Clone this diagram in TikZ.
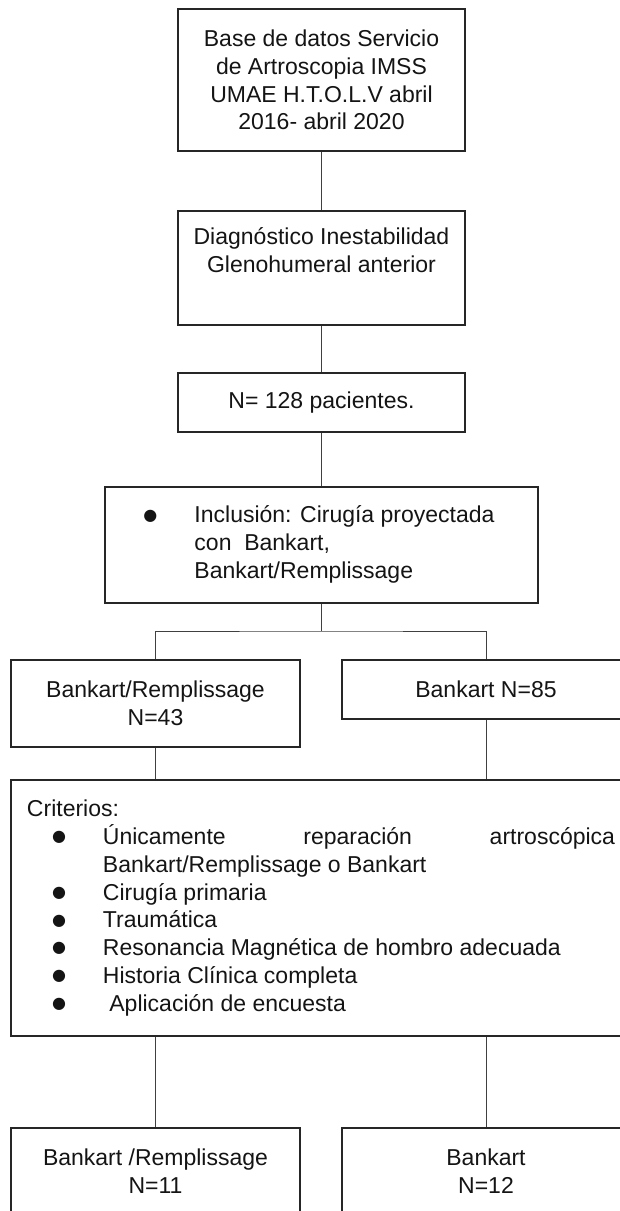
\documentclass[tikz,border=0pt]{standalone}
\usepackage{fontspec}
\setmainfont{Liberation Sans}
\newfontfamily\simbolos{DejaVu Sans}
\usetikzlibrary{calc}

% viñeta redonda y sangría colgante
\newcommand{\bola}{\raisebox{2.7pt}{\simbolos\fontsize{16}{16}\selectfont ●}}
\newcommand{\punto}[1]{\par\noindent\hangindent=76pt\hangafter=1\hspace*{25pt}\makebox[51pt][l]{\bola}#1}

\begin{document}
\begin{tikzpicture}[x=1pt, y=-1pt,
    caja/.style={draw=black!85, line width=1.6pt, align=center, inner sep=0pt, text=black!92,
      font=\fontsize{23}{27.8}\selectfont},
    linea/.style={draw=black!75, line width=1pt}]
        \useasboundingbox (0,0) rectangle (620,1211);

        % cajas de la columna central
        \node[caja, minimum width=287pt, minimum height=142pt] (base) at (321.5,80)
            {Base de datos Servicio\\de Artroscopia IMSS\\UMAE H.T.O.L.V abril\\2016- abril 2020};
        \node[caja, minimum width=287pt, minimum height=114pt] (diag) at (321.5,268)
            {Diagnóstico Inestabilidad\\Glenohumeral anterior\\\strut};
        \node[caja, minimum width=287pt, minimum height=59pt] (pac) at (321.5,402.5)
            {N= 128 pacientes.};
        \node[caja, minimum width=433pt, minimum height=116pt] (incl) at (321.5,545)
            {\begin{tabular}{@{}p{46pt}@{}l@{}}
             \hspace*{-5pt}\bola & Inclusión: Cirugía proyectada\\
                         & con\ \ Bankart,\\
                         & Bankart/Remplissage
             \end{tabular}};

        % primera division
        \node[caja, minimum width=289pt, minimum height=87pt] (bkr) at (155.5,703.5)
            {Bankart/Remplissage\\N=43};
        \node[caja, minimum width=288pt, minimum height=59pt] (bk) at (486,689.5)
            {Bankart N=85};

        % criterios
        \node[caja, text width=588pt, inner xsep=16pt, minimum height=256pt, align=justify] (crit) at (321,908)
            {\tolerance=10000\hyphenpenalty=10000
             Criterios:
             \punto{Únicamente reparación artroscópica Bankart/Remplissage o Bankart}
             \punto{Cirugía primaria}
             \punto{Traumática}
             \punto{Resonancia Magnética de hombro adecuada}
             \punto{Historia Clínica completa}
             \punto{\ Aplicación de encuesta}\par};

        % grupos finales
        \node[caja, minimum width=289pt, minimum height=87pt] (bkr2) at (155.5,1171.5)
            {Bankart /Remplissage\\N=11};
        \node[caja, minimum width=288pt, minimum height=87pt] (bk2) at (486,1171.5)
            {Bankart\\N=12};

        % conectores
        \coordinate (rama) at (321.5,631);
        \draw[linea] (base.south) -- (diag.north);
        \draw[linea] (diag.south) -- (pac.north);
        \draw[linea] (pac.south) -- (incl.north);
        \draw[linea] (incl.south) -- (rama);
        \draw[linea] (bkr.north) |- (rama) -| (bk.north);
        \draw[linea] (bkr.south) -- (bkr.south |- crit.north);
        \draw[linea] (bk.south) -- (bk.south |- crit.north);
        \draw[linea] (crit.south -| bkr2.north) -- (bkr2.north);
        \draw[linea] (crit.south -| bk2.north) -- (bk2.north);
    \end{tikzpicture}
\end{document}
